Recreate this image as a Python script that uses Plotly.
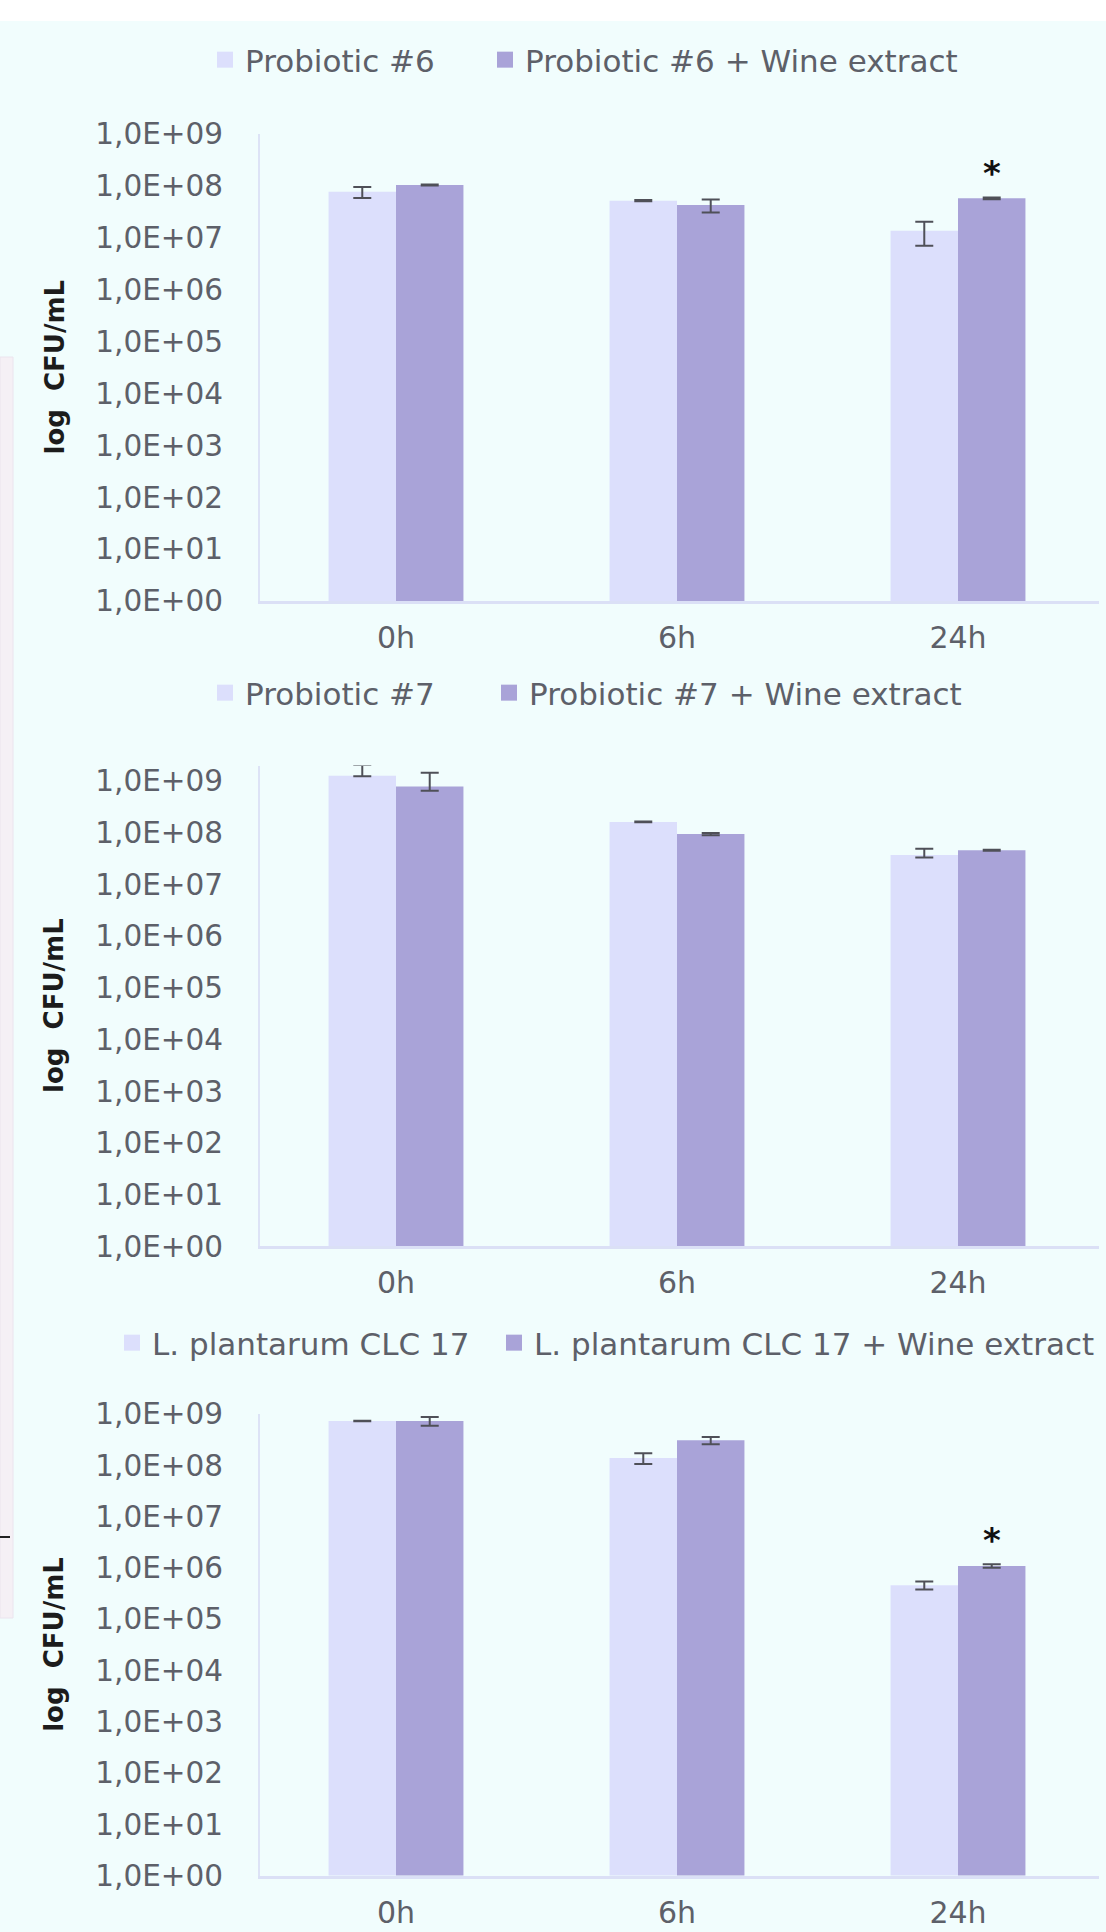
import plotly.graph_objects as go

# ---------------- data ----------------
categories = ["0h", "6h", "24h"]

p6_names = ["Probiotic #6", "Probiotic #6 + Wine extract"]
p6_ctrl = [7.7e7, 5.2e7, 1.37e7]
p6_ctrl_err = [1.85e7, 1.5e6, 6.7e6]
p6_wine = [1.04e8, 4.27e7, 5.75e7]
p6_wine_err = [2.0e6, 1.2e7, 2.0e6]

p7_names = ["Probiotic #7", "Probiotic #7 + Wine extract"]
p7_ctrl = [1.26e9, 1.62e8, 3.7e7]
p7_ctrl_err_plus = [7.8e8, 3.0e6, 1.2e7]
p7_ctrl_err_minus = [2.0e7, 3.0e6, 4.0e6]
p7_wine = [7.8e8, 9.4e7, 4.6e7]
p7_wine_err_plus = [6.7e8, 5.0e6, 1.0e6]
p7_wine_err_minus = [1.3e8, 5.0e6, 1.0e6]

lp_names = ["L. plantarum CLC 17", "L. plantarum CLC 17 + Wine extract"]
lp_ctrl = [7.3e8, 1.39e8, 4.6e5]
lp_ctrl_err = [1.0e7, 3.3e7, 8.0e4]
lp_wine = [7.3e8, 3.07e8, 1.09e6]
lp_wine_err = [1.4e8, 5.0e7, 8.0e4]

# significance marks: (category, log10 position)
p6_star = ("24h", 8.40)
lp_star = ("24h", 6.70)

tick_vals = [10 ** k for k in range(10)]
tick_text = ["1,0E+0%d" % k for k in range(10)]
y_title = "log\u00a0 CFU/mL"

# ---------------- style ----------------
W, H = 1106, 1932
BG = "#f1fdfd"
LIGHT = "#dcdffc"
DARK = "#a9a3d8"
TXT = "#5d6069"
ERR = "#4f5058"
FONT = "DejaVu Sans"

def py(px):
    return 1 - px / H

fig = go.Figure()

# panel pixel geometry: (top px, bottom px, log range top)
panels = [
    (134.0, 601.0, 9.0),
    (765.5, 1246.3, 9.3),
    (1414.0, 1875.6, 9.0),
]

def add_pair(idx, names, ctrl, wine, ce_p, ce_m, we_p, we_m, legends):
    ax = "" if idx == 1 else str(idx)
    for vals, ep, em, col, grp in [(ctrl, ce_p, ce_m, LIGHT, "a"), (wine, we_p, we_m, DARK, "b")]:
        fig.add_trace(go.Bar(
            x=categories, y=vals, showlegend=False,
            marker=dict(color=col, line=dict(width=0)),
            error_y=dict(type="data", symmetric=False, array=ep, arrayminus=em,
                         color=ERR, thickness=2, width=9),
            xaxis="x" + ax, yaxis="y" + ax,
            offsetgroup="%s%d" % (grp, idx), legendgroup="%s%d" % (grp, idx),
        ))
    # legend entries (square swatches)
    for name, col, grp, lg in [(names[0], LIGHT, "a", legends[0]), (names[1], DARK, "b", legends[1])]:
        fig.add_trace(go.Scatter(
            x=[None], y=[None], mode="markers", name=name,
            marker=dict(symbol="square", size=20, color=col),
            xaxis="x" + ax, yaxis="y" + ax, legend=lg,
            legendgroup="%s%d" % (grp, idx), hoverinfo="skip",
        ))

add_pair(1, p6_names, p6_ctrl, p6_wine, p6_ctrl_err, p6_ctrl_err, p6_wine_err, p6_wine_err,
         ("legend", "legend2"))
add_pair(2, p7_names, p7_ctrl, p7_wine, p7_ctrl_err_plus, p7_ctrl_err_minus,
         p7_wine_err_plus, p7_wine_err_minus, ("legend3", "legend4"))
add_pair(3, lp_names, lp_ctrl, lp_wine, lp_ctrl_err, lp_ctrl_err, lp_wine_err, lp_wine_err,
         ("legend5", "legend6"))

layout = dict(
    width=W, height=H,
    margin=dict(l=0, r=0, t=0, b=0, autoexpand=False),
    paper_bgcolor=BG, plot_bgcolor=BG,
    barmode="group", bargap=0.52, bargroupgap=0,
    font=dict(family=FONT, size=30, color=TXT),
    showlegend=True,
)

x_left_px, x_right_px = 260.0, 1098.5
cat_step = (x_right_px - 396.0) / 2.5
x_range = [(x_left_px - 396.0) / cat_step, 2.5]
xdom = [x_left_px / W, x_right_px / W]
for i, (top, bot, rtop) in enumerate(panels, start=1):
    sfx = "" if i == 1 else str(i)
    layout["xaxis" + sfx] = dict(
        domain=xdom, type="category", categoryorder="array", categoryarray=categories,
        range=x_range, showgrid=False, zeroline=False, automargin=False,
        showline=True, linecolor="#dbe0f6", linewidth=3,
        ticks="", ticklabelstandoff=8,
        tickfont=dict(family=FONT, size=30, color=TXT),
        anchor="y" + sfx, fixedrange=True,
    )
    layout["yaxis" + sfx] = dict(
        domain=[py(bot), py(top)], type="log", range=[0, rtop],
        tickvals=tick_vals, ticktext=tick_text, automargin=False,
        showgrid=False, zeroline=False,
        showline=True, linecolor="#dde3f6", linewidth=2,
        ticks="", ticklabelstandoff=29,
        tickfont=dict(family=FONT, size=29.5, color=TXT),
        anchor="x" + sfx, fixedrange=True,
    )

legend_style = dict(orientation="h", bgcolor="rgba(0,0,0,0)", borderwidth=0,
                    font=dict(family=FONT, size=31, color=TXT),
                    xanchor="left", yanchor="middle", itemsizing="trace")
legend_pos = [
    ("legend", 205, 60), ("legend2", 485, 60),
    ("legend3", 205, 693), ("legend4", 489, 693),
    ("legend5", 112, 1343), ("legend6", 494, 1343),
]
for key, lx, ly in legend_pos:
    layout[key] = dict(legend_style, x=lx / W, y=py(ly))

annotations = []
for i, (top, bot, rtop) in enumerate(panels, start=1):
    annotations.append(dict(
        text="<b>%s</b>" % y_title, textangle=-90,
        xref="paper", yref="paper", x=54 / W, y=py((top + bot) / 2),
        xanchor="center", yanchor="middle", showarrow=False,
        font=dict(family=FONT, size=26, color="#1c1c1c"),
    ))
for (cat, lv), sfx in [(p6_star, ""), (lp_star, "3")]:
    annotations.append(dict(
        text="<b>*</b>", xref="x" + sfx, yref="y" + sfx, x=cat, y=lv,
        xshift=34, yshift=-8, showarrow=False, xanchor="center", yanchor="middle",
        font=dict(family=FONT, size=34, color="#111111"),
    ))
layout["annotations"] = annotations

layout["shapes"] = [
    dict(type="rect", xref="paper", yref="paper", x0=0, x1=1, y0=py(21), y1=1,
         fillcolor="#ffffff", line=dict(width=0), layer="below"),
    dict(type="rect", xref="paper", yref="paper", x0=0, x1=13 / W, y0=py(1618), y1=py(357),
         fillcolor="#f5f0f5", line=dict(color="#ebe4ee", width=1), layer="below"),
    dict(type="line", xref="paper", yref="paper", x0=0, x1=10 / W, y0=py(1537), y1=py(1537),
         line=dict(color="#222222", width=2)),
]

fig.update_layout(**layout)
fig.write_html("out.html")
